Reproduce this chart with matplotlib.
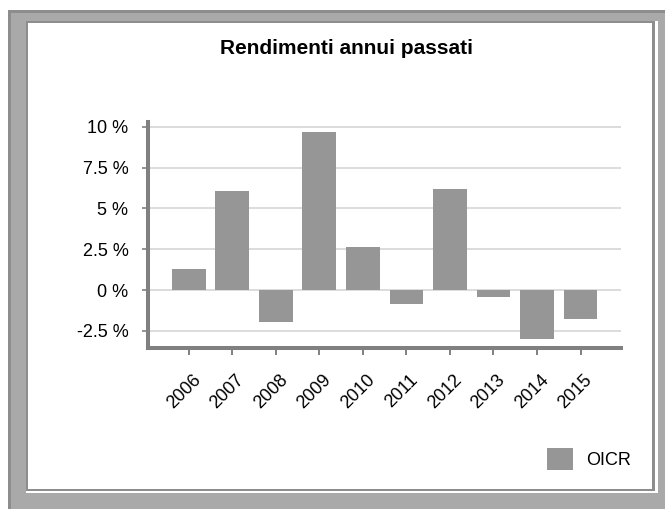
import matplotlib
matplotlib.use("Agg")
import matplotlib.pyplot as plt
from matplotlib.patches import Rectangle
from matplotlib.ticker import FuncFormatter
import matplotlib.transforms as mtransforms

# data
years = ["2006", "2007", "2008", "2009", "2010", "2011", "2012", "2013", "2014", "2015"]
oicr = [1.29, 6.08, -1.94, 9.67, 2.63, -0.84, 6.18, -0.41, -2.98, -1.76]
yticks = [-2.5, 0, 2.5, 5, 7.5, 10]

W, H = 665, 509
plt.rcParams['font.family'] = ['Liberation Sans', 'DejaVu Sans']

fig = plt.figure(figsize=(W / 100, H / 100), dpi=100)
fig.patch.set_facecolor("white")


def rect(x0, y0, x1, y1, color):
    # pixel coords (top-left origin) -> figure coords
    fig.add_artist(Rectangle((x0 / W, 1 - y1 / H), (x1 - x0) / W, (y1 - y0) / H,
                             transform=fig.transFigure, facecolor=color,
                             edgecolor="none", lw=0, zorder=-10))


# grey frame around the white panel
rect(8, 10, W, H, "#8d8d8d")
rect(11, 13, W, H, "#a9a9a9")
rect(26, 20.7, 657.7, 493, "white")
rect(26, 20.7, 655, 491, "#8d8d8d")
rect(28, 23, 651.7, 489, "white")

fig.text(347 / W, 1 - 49 / H, "Rendimenti annui passati", ha="center", va="center",
         fontsize=15, fontweight="bold", color="black")

ax = fig.add_axes([148.3 / W, 1 - 348.3 / H, (621 - 148.3) / W, (348.3 - 121.7) / H])
ax.set_facecolor("none")

x = range(len(years))
ax.bar(x, oicr, width=0.775, color="#969696", zorder=3, label="OICR")

ax.set_xlim(-0.93, 9.93)
ax.set_ylim(-3.57, 10.31)
ax.set_yticks(yticks)
ax.yaxis.set_major_formatter(FuncFormatter(lambda v, p: "{:g} %".format(v)))
ax.set_xticks(list(x))
ax.set_xticklabels(years, rotation=45, ha="center")

ax.grid(axis="y", color="#d9d9d9", linewidth=1.3, zorder=0)
ax.set_axisbelow(True)

for s in ["top", "right"]:
    ax.spines[s].set_visible(False)
for s in ["left", "bottom"]:
    ax.spines[s].set_color("#808080")
    ax.spines[s].set_linewidth(2.9)

ax.tick_params(axis="y", length=4.3, width=1.2, color="#808080", pad=10,
               labelsize=13, labelcolor="black")
ax.tick_params(axis="x", length=4.8, width=1.4, color="#808080", pad=12,
               labelsize=13, labelcolor="black")

# nudge the rotated year labels a little to the left
off = mtransforms.ScaledTranslation(-5 / 100, 0, fig.dpi_scale_trans)
for lab in ax.get_xticklabels():
    lab.set_transform(lab.get_transform() + off)

fig.legend(loc="center left", bbox_to_anchor=(546.7 / W, 1 - 459 / H),
           frameon=False, fontsize=13, handlelength=1.45, handleheight=1.45,
           handletextpad=0.75, borderpad=0, borderaxespad=0)

fig.savefig("out.png", dpi=100, facecolor=fig.get_facecolor())
